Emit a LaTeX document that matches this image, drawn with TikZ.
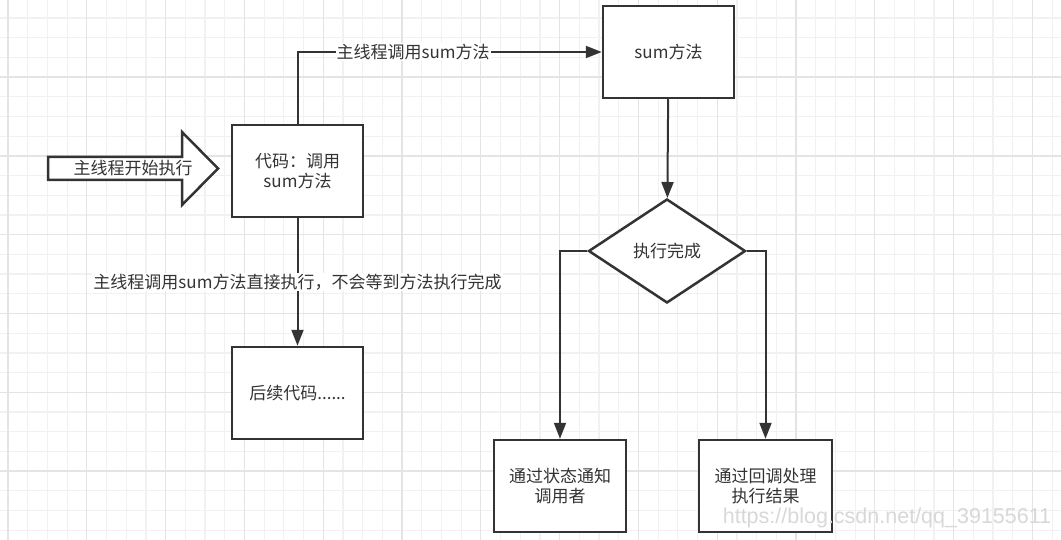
\documentclass[tikz,border=0pt]{standalone}
\usepackage{fontspec}
\setmainfont{Noto Sans CJK SC}
\newfontfamily\wmfont{Liberation Sans}
\usepackage{tikz}
\usetikzlibrary{shapes.geometric, arrows.meta, positioning, calc}
\definecolor{ink}{HTML}{333333}
\definecolor{gridminor}{HTML}{F1F1F1}
\definecolor{gridmajor}{HTML}{E4E4E4}
\definecolor{wmgray}{HTML}{D8D8D8}

\begin{document}
\begin{tikzpicture}[
    x=1pt, y=-1pt,
    proc/.style={draw=ink, line width=2.5pt, fill=white, minimum width=131pt,
                 minimum height=92pt, inner sep=2pt, align=center, text=ink},
    cond/.style={diamond, draw=ink, line width=2.5pt, fill=white, aspect=1.5,
                 inner sep=0pt, minimum width=157pt, minimum height=104pt, text=ink},
    flow/.style={-{Triangle[length=16pt,width=12pt]}, draw=ink, line width=2pt},
    tag/.style={fill=white, inner sep=1pt, text=ink},
    font=\fontsize{17}{20}\selectfont,
]
    % background grid
    \fill[white] (0,0) rectangle (1061,540);
    \useasboundingbox (0,0) rectangle (1061,540);
    \foreach \k in {0,...,53} \draw[gridminor, line width=1.2pt] ({8+19.7*\k},0) -- ++(0,540);
    \foreach \k in {0,...,26} \draw[gridminor, line width=1.2pt] (0,{18+19.7*\k}) -- ++(1061,0);
    \foreach \k in {0,4,...,52} \draw[gridmajor, line width=1.3pt] ({8+19.7*\k},0) -- ++(0,540);
    \foreach \k in {3,7,...,23} \draw[gridmajor, line width=1.3pt] (0,{18+19.7*\k}) -- ++(1061,0);

    % entry arrow
    \draw[ink, fill=white, line width=2.5pt, line join=miter]
        (48,157) -- (182,157) -- (182,132) -- (218,168.5) -- (182,205) -- (182,180) -- (48,180) -- cycle;
    \node[text=ink] (start) at (133,168.5) {主线程开始执行};

    \node[proc] (code)     at (297.5,171)   {代码：调用\\sum方法};
    \node[proc] (summ)     at (668.5,52)    {sum方法};
    \node[proc] (follow)   at (297.5,393)   {后续代码......};
    \node[cond] (done)     at (667,251)     {执行完成};
    \node[proc, minimum width=132pt] (notify)   at (560,486)   {通过状态通知\\调用者};
    \node[proc, minimum width=133pt] (callback) at (765.5,486) {通过回调处理\\执行结果};

    \draw[flow] (code.north) |- node[tag, pos=0.69] {主线程调用sum方法} (summ.west);
    \draw[flow] (code) -- node[tag] {主线程调用sum方法直接执行，不会等到方法执行完成} (follow);
    \draw[flow] (summ) -- (done);
    \draw[flow] (done.west) -| (notify.north);
    \draw[flow] (done.east) -| (callback.north);

    \node[text=wmgray, font=\wmfont\fontsize{21.5}{24}\selectfont] (wmark) at (887,518)
        {https://blog.csdn.net/qq\_39155611};
\end{tikzpicture}
\end{document}
